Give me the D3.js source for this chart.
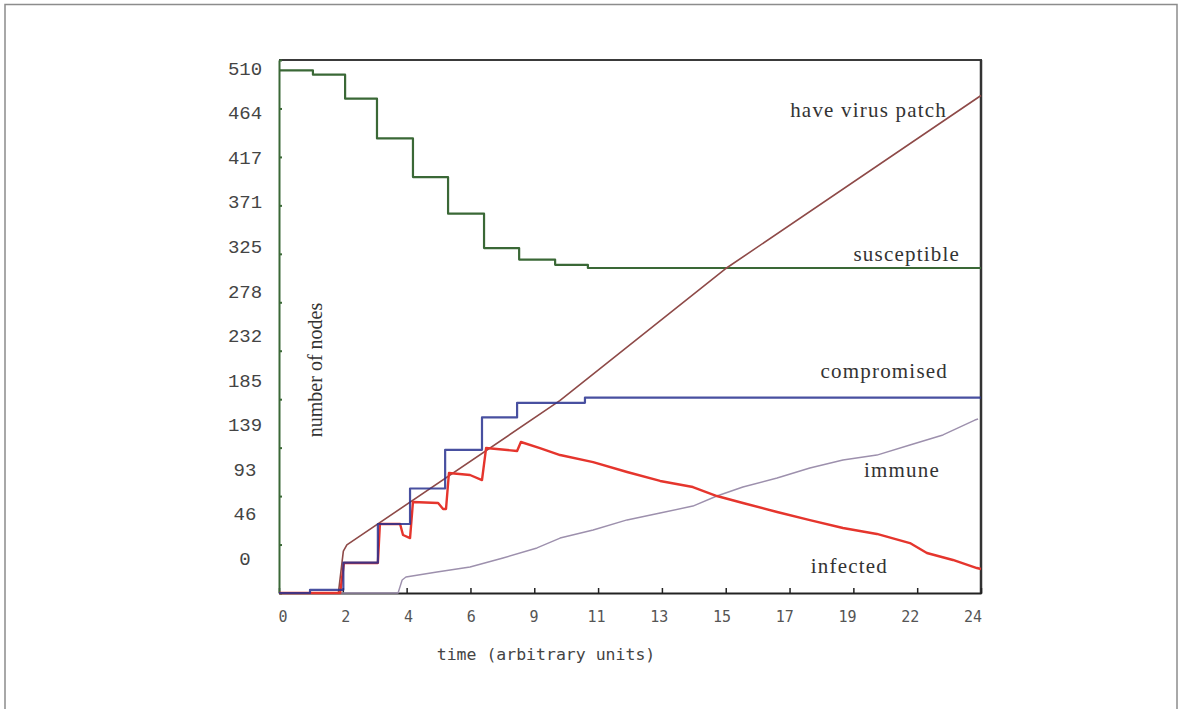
<!DOCTYPE html>
<html>
<head>
<meta charset="utf-8">
<script src="https://cdn.jsdelivr.net/npm/d3@7"></script>
<style>
  html, body { margin: 0; padding: 0; background: #fff; }
  svg { display: block; }
</style>
</head>
<body>
<svg id="chart" width="1178" height="709"></svg>
<script>
// Tick labels along each axis
const xTickLabels = ["0","2","4","6","9","11","13","15","17","19","22","24"];
const yTickLabels = ["0","46","93","139","185","232","278","325","371","417","464","510"];

// Susceptible nodes (step series)
const susTime = [0, 1.16, 2.26, 3.35, 4.58, 5.78, 7.01, 8.21, 9.44, 10.56, 24];
const susVal  = [500, 496, 473, 435, 398, 363, 330, 319, 314, 311, 311];

// Compromised nodes (step series)
const compTime = [0, 1.06, 2.2, 3.38, 4.48, 5.68, 6.94, 8.14, 10.46, 24];
const compVal  = [0, 3, 29, 66, 100, 137, 168, 182, 187, 187];

// Infected nodes
const infTime = [0, 2.09, 2.22, 3.38, 3.45, 4.14, 4.24, 4.48, 4.58, 5.44, 5.61, 5.71, 5.81, 6.53, 6.94, 7.08, 8.14, 8.27, 8.92, 9.61, 10.74, 11.9, 13.03, 14.15, 14.97, 15.86, 17.03, 18.15, 19.28, 20.44, 21.57, 22.15, 23.04, 23.86, 24];
const infVal  = [0, 0, 28.7, 28.7, 66, 66, 55.5, 52.6, 87.1, 86.1, 80.4, 80.4, 114.8, 112.9, 108.1, 138.7, 135.9, 144.5, 138.7, 132, 125.3, 115.8, 107.2, 101.4, 92.8, 86.1, 77.5, 69.8, 62.2, 56.5, 47.8, 38.3, 31.6, 23.9, 23];

// Immune nodes
const immTime = [0, 4.07, 4.21, 4.34, 5.4, 6.53, 7.66, 8.82, 9.61, 10.74, 11.9, 13.03, 14.15, 14.97, 15.86, 17.03, 18.15, 19.28, 20.44, 21.57, 22.7, 23.79, 23.9];
const immVal  = [0, 0, 12.4, 15.3, 20.1, 24.9, 33.5, 43.1, 52.6, 60.3, 69.9, 76.5, 83.2, 92.8, 101.4, 110, 119.6, 127.3, 132, 141.6, 151.2, 165.5, 166.5];

// Nodes that have the virus patch
const patchTime = [0, 2.03, 2.2, 2.32, 9.6, 15.25, 24];
const patchVal  = [0, 0, 40, 46, 184, 310, 476];

const svg = d3.select("#chart");

// outer figure border
svg.append("rect")
  .attr("x", 5).attr("y", 4.5)
  .attr("width", 1172).attr("height", 730)
  .attr("fill", "none").attr("stroke", "#8c8c8c").attr("stroke-width", 1.5);

const plotLeft = 279, plotRight = 981, plotTop = 60, plotBottom = 593;

const x = d3.scaleLinear().domain([0, 24]).range([plotLeft, plotRight]);
const y = d3.scaleLinear().domain([0, 510]).range([plotBottom, plotTop]);

// tick positions and label positions
const xTick = d3.scalePoint().domain(xTickLabels).range([plotLeft, plotRight]);
const yTick = d3.scalePoint().domain(yTickLabels).range([plotBottom, plotTop]);
const xLab = d3.scalePoint().domain(xTickLabels).range([283, 973]);
const yLab = d3.scalePoint().domain(yTickLabels).range([558, 68]);

const green = "#3a6836";

// plot frame
svg.append("line").attr("x1", plotLeft).attr("x2", plotRight + 1).attr("y1", plotTop).attr("y2", plotTop)
  .attr("stroke", "#3a3a3a").attr("stroke-width", 2);
svg.append("line").attr("x1", plotRight).attr("x2", plotRight).attr("y1", plotTop).attr("y2", plotBottom + 1)
  .attr("stroke", "#333").attr("stroke-width", 2.5);

// bottom axis ticks
const xAxis = svg.append("g").attr("transform", `translate(0,${plotBottom})`)
  .call(d3.axisBottom(xTick).tickSize(-5).tickSizeOuter(0).tickFormat(""));
xAxis.select(".domain").attr("stroke", "#222").attr("stroke-width", 2);
xAxis.selectAll(".tick line").attr("stroke", "#222").attr("stroke-width", 1.5);

// left axis ticks
const yAxis = svg.append("g").attr("transform", `translate(${plotLeft},0)`)
  .call(d3.axisLeft(yTick).tickSize(-3).tickSizeOuter(0).tickFormat(""));
yAxis.select(".domain").attr("stroke", green).attr("stroke-width", 2);
yAxis.selectAll(".tick line").attr("stroke", green).attr("stroke-width", 2);

// tick labels
svg.append("g").selectAll("text").data(xTickLabels).join("text")
  .attr("x", d => xLab(d)).attr("y", 622)
  .attr("text-anchor", "middle")
  .attr("font-family", "DejaVu Sans Mono")
  .attr("font-size", 15)
  .attr("fill", "#555")
  .text(d => d);

svg.append("g").selectAll("text").data(yTickLabels).join("text")
  .attr("x", 245).attr("y", d => yLab(d))
  .attr("dy", "0.36em")
  .attr("text-anchor", "middle")
  .attr("font-family", "Liberation Mono")
  .attr("font-size", 19)
  .attr("fill", "#444")
  .text(d => d);

// axis titles
svg.append("text")
  .attr("x", 546).attr("y", 660)
  .attr("text-anchor", "middle")
  .attr("font-family", "DejaVu Sans Mono")
  .attr("font-size", 16.5)
  .attr("fill", "#444")
  .text("time (arbitrary units)");

svg.append("text")
  .attr("transform", "translate(322,370) rotate(-90)")
  .attr("text-anchor", "middle")
  .attr("font-family", "Liberation Serif")
  .attr("font-size", 20)
  .attr("fill", "#333")
  .text("number of nodes");

// series lines
const zip = (ts, vs) => ts.map((t, i) => [t, vs[i]]);
const stepLine = d3.line().x(d => x(d[0])).y(d => y(d[1])).curve(d3.curveStepAfter);
const plainLine = d3.line().x(d => x(d[0])).y(d => y(d[1]));

const series = [
  { data: zip(susTime, susVal), gen: stepLine, color: green, w: 2.2, op: 1 },
  { data: zip(immTime, immVal), gen: plainLine, color: "#9d90ad", w: 1.4, op: 1 },
  { data: zip(patchTime, patchVal), gen: plainLine, color: "#8e4a48", w: 1.6, op: 1 },
  { data: zip(infTime, infVal), gen: plainLine, color: "#e5352d", w: 2.4, op: 1 },
  { data: zip(compTime, compVal), gen: stepLine, color: "#28318f", w: 2.2, op: 0.85 }
];

svg.append("g").selectAll("path").data(series).join("path")
  .attr("d", s => s.gen(s.data))
  .attr("fill", "none")
  .attr("stroke", s => s.color)
  .attr("stroke-width", s => s.w)
  .attr("stroke-opacity", s => s.op)
  .attr("stroke-linejoin", "round");

// series annotations
const notes = [
  { text: "have virus patch", x: 947, y: 117 },
  { text: "susceptible", x: 960, y: 261 },
  { text: "compromised", x: 948, y: 378 },
  { text: "immune", x: 940, y: 477 },
  { text: "infected", x: 888, y: 573 }
];
svg.append("g").selectAll("text").data(notes).join("text")
  .attr("x", d => d.x).attr("y", d => d.y)
  .attr("text-anchor", "end")
  .attr("font-family", "Liberation Serif")
  .attr("font-size", 21)
  .attr("letter-spacing", 1.2)
  .attr("fill", "#333")
  .text(d => d.text);
</script>
</body>
</html>
